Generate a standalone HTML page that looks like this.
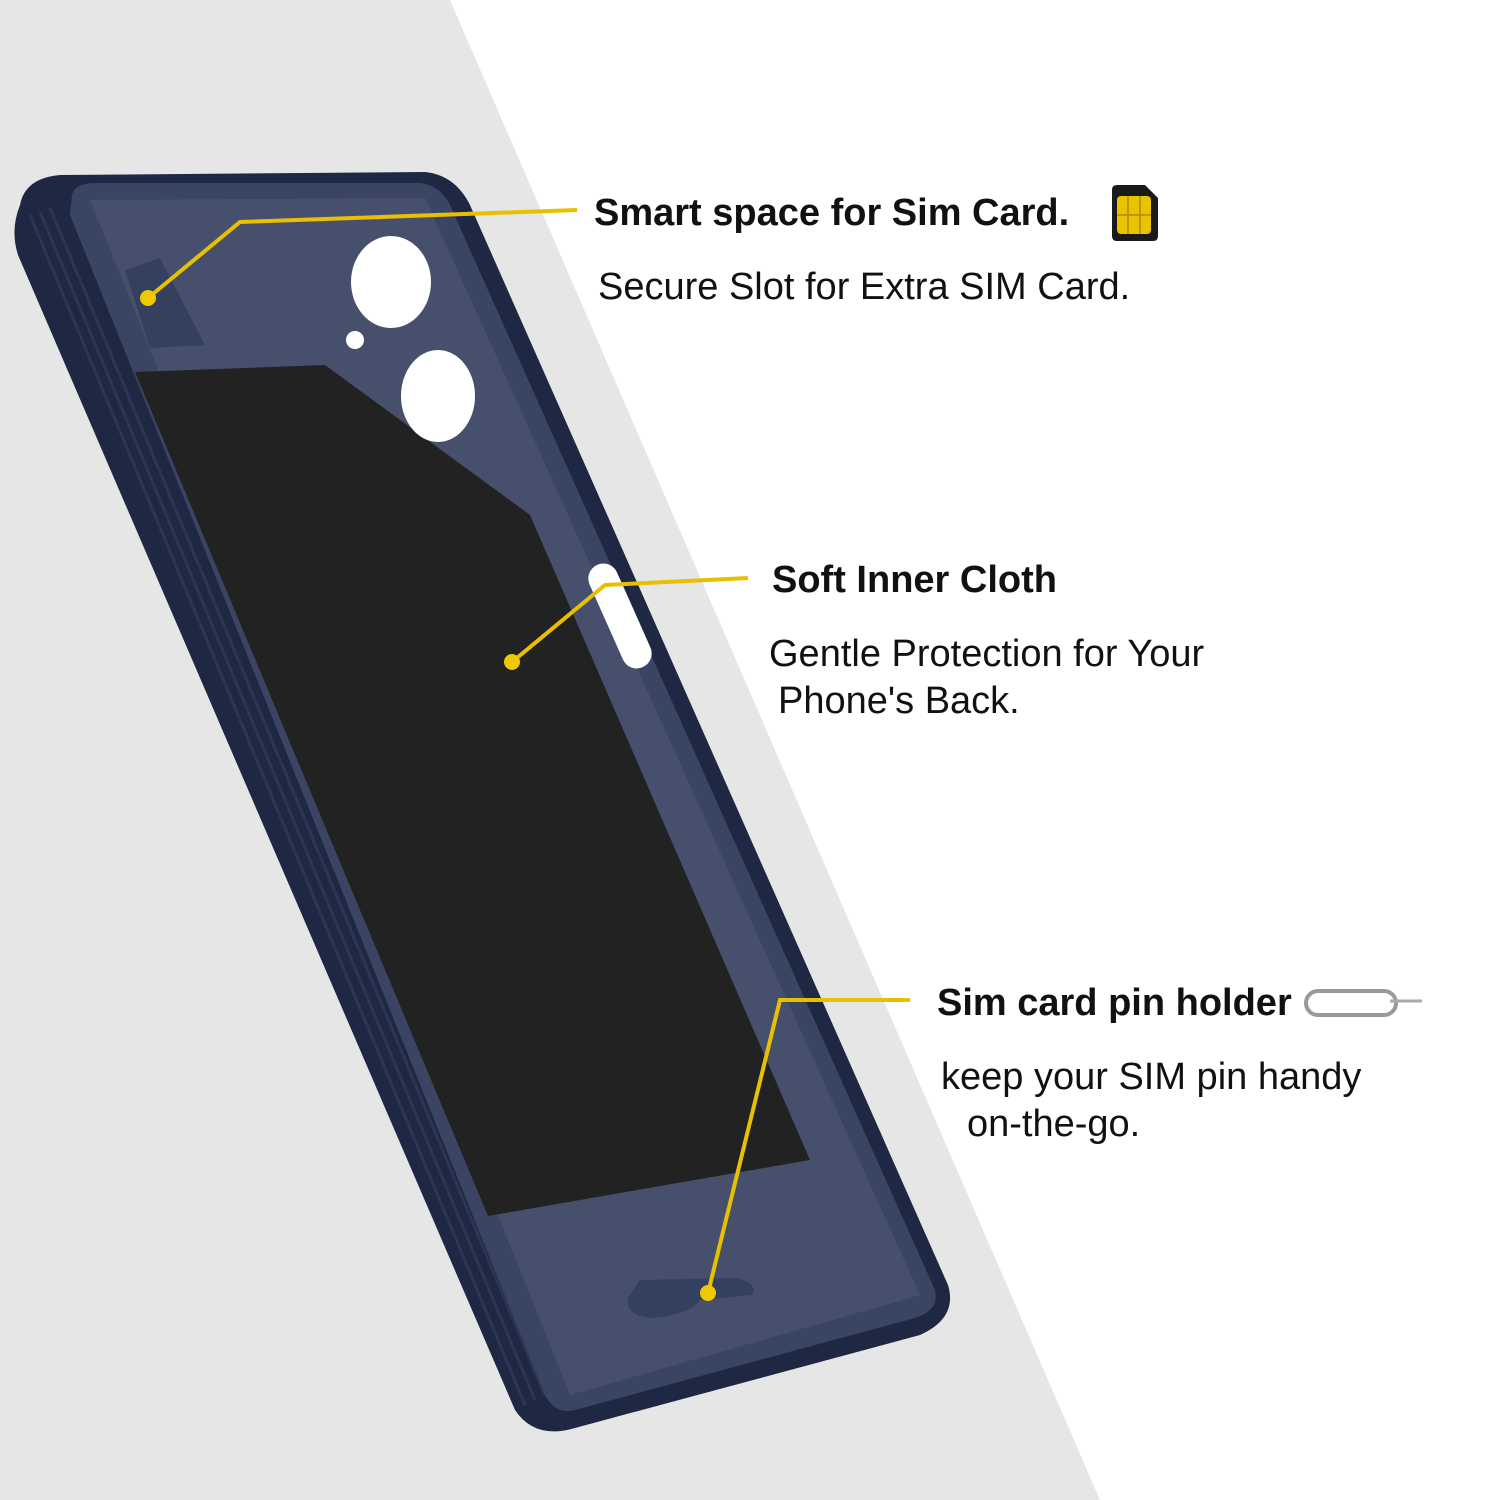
<!DOCTYPE html>
<html><head><meta charset="utf-8"><style>
html,body{margin:0;padding:0;width:1500px;height:1500px;overflow:hidden;background:#fff}
svg{display:block}
text{font-family:"Liberation Sans",sans-serif;fill:#111}
.b{font-weight:bold;font-size:38px}
.r{font-size:38px}
</style></head><body>
<svg width="1500" height="1500" viewBox="0 0 1500 1500" xmlns="http://www.w3.org/2000/svg">
<rect width="1500" height="1500" fill="#fff"/>
<polygon points="0,0 450,0 1100,1500 0,1500" fill="#e6e6e6"/>
<path d="M20,205 Q25,178 60,175 L425,172 Q455,175 470,205 L948,1285 Q958,1318 920,1335 L575,1428 Q535,1440 515,1410 L18,255 Q10,230 20,205 Z" fill="#1f2843"/>
<path d="M30,215 L525,1405" stroke="#2c3654" stroke-width="3" fill="none"/>
<path d="M40,212 L535,1400" stroke="#2c3654" stroke-width="3" fill="none"/>
<path d="M50,208 L545,1396" stroke="#2c3654" stroke-width="3" fill="none"/>
<path d="M72,195 Q75,183 95,183 L420,183 Q440,185 450,205 L935,1290 Q940,1310 915,1318 L575,1410 Q555,1415 545,1395 L70,215 Z" fill="#3a4563"/>
<path d="M90,200 L425,198 L920,1295 L570,1395 Z" fill="#46506d"/>
<polygon points="125,270 160,258 205,345 150,348" fill="#34405e"/>
<polygon points="135,372 325,365 530,515 810,1160 488,1216" fill="#222222"/>
<ellipse cx="391" cy="282" rx="40" ry="46" fill="#fff"/>
<ellipse cx="438" cy="396" rx="37" ry="46" fill="#fff"/>
<circle cx="355" cy="340" r="9" fill="#fff"/>
<rect x="605" y="560" width="30" height="112" rx="15" fill="#fff" transform="rotate(-24 620 616)"/>
<path d="M640,1280 L735,1278 Q758,1282 752,1295 L700,1300 Q690,1315 650,1318 Q625,1315 628,1298 Z" fill="#33405f"/>
<g stroke="#e8c000" stroke-width="4" fill="none">
<polyline points="148,298 240,222 577,210"/>
<polyline points="512,662 605,585 748,578"/>
<polyline points="708,1293 780,1000 910,1000"/>
</g>
<g fill="#f0c800">
<circle cx="148" cy="298" r="8"/>
<circle cx="512" cy="662" r="8"/>
<circle cx="708" cy="1293" r="8"/>
</g>
<text class="b" x="594" y="225">Smart space for Sim Card.</text>
<text class="r" x="598" y="299">Secure Slot for Extra SIM Card.</text>
<text class="b" x="772" y="592">Soft Inner Cloth</text>
<text class="r" x="769" y="666">Gentle Protection for Your</text>
<text class="r" x="778" y="713">Phone's Back.</text>
<text class="b" x="937" y="1015">Sim card pin holder</text>
<text class="r" x="941" y="1089">keep your SIM pin handy</text>
<text class="r" x="967" y="1136">on-the-go.</text>
<path d="M1112,190 Q1112,185 1117,185 L1145,185 L1158,198 L1158,236 Q1158,241 1153,241 L1117,241 Q1112,241 1112,236 Z" fill="#1a1a1a"/>
<rect x="1117" y="196" width="34" height="38" rx="4" fill="#e8c400"/>
<g stroke="#b08a00" stroke-width="1.5" fill="none"><path d="M1117,215 H1151 M1128,196 V234 M1140,196 V234"/></g>
<rect x="1306" y="991" width="90" height="24" rx="12" fill="none" stroke="#999" stroke-width="4"/>
<line x1="1390" y1="1001" x2="1422" y2="1001" stroke="#aaa" stroke-width="3"/>
</svg>
</body></html>
